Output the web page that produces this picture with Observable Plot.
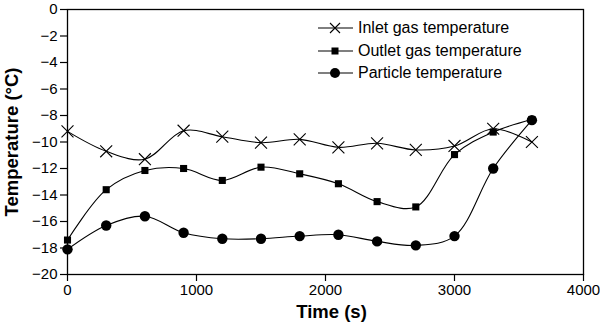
<!DOCTYPE html>
<html>
<head>
<meta charset="utf-8">
<script src="https://cdn.jsdelivr.net/npm/d3@7"></script>
<script src="https://cdn.jsdelivr.net/npm/@observablehq/plot@0.6"></script>
<style>
  html, body { margin: 0; padding: 0; background: #fff; }
  #wrap { position: relative; width: 600px; height: 324px; font-family: "Liberation Sans", Arial, sans-serif; }
  .legend { position: absolute; left: 318px; top: 17px; font-size: 16px; color: #000; }
  .legend .row { display: flex; align-items: center; height: 22.5px; }
  .legend svg { margin-right: 5px; }
</style>
</head>
<body>
<div id="wrap"></div>
<script>
const times = [0, 300, 600, 900, 1200, 1500, 1800, 2100, 2400, 2700, 3000, 3300, 3600];
const inletGas = [-9.2, -10.7, -11.3, -9.15, -9.6, -10.05, -9.8, -10.4, -10.1, -10.6, -10.3, -9.0, -10.0];
const outletGas = [-17.4, -13.6, -12.15, -12.0, -12.9, -11.9, -12.4, -13.15, -14.5, -14.9, -10.95, -9.25, -8.3];
const particle = [-18.1, -16.3, -15.6, -16.85, -17.3, -17.3, -17.1, -17.0, -17.5, -17.8, -17.1, -12.0, -8.35];
const seriesNames = ["Inlet gas temperature", "Outlet gas temperature", "Particle temperature"];
const xTicks = [0, 1000, 2000, 3000, 4000];
const yTicks = [0, -2, -4, -6, -8, -10, -12, -14, -16, -18, -20];

const rows = (vals) => times.map((t, i) => ({t, v: vals[i]}));
const inlet = rows(inletGas), outlet = rows(outletGas), part = rows(particle);

const fmt = d3.format("d");

const chart = Plot.plot({
  width: 600,
  height: 324,
  marginLeft: 67,
  marginRight: 17,
  marginTop: 9,
  marginBottom: 50,
  style: {fontFamily: "Liberation Sans, Arial, sans-serif", fontSize: "15px", color: "#000", background: "#fff"},
  x: {domain: [0, 4000]},
  y: {domain: [-20, 0]},
  marks: [
    Plot.frame({stroke: "#000", strokeWidth: 1.3}),
    Plot.axisY(yTicks, {tickSize: 7, tickPadding: 3, tickFormat: fmt, label: null, fontSize: 15, strokeWidth: 1.2}),
    Plot.axisX(xTicks, {tickSize: 7, tickPadding: 3, tickFormat: fmt, label: null, fontSize: 15, strokeWidth: 1.2}),
    Plot.text(["Temperature (°C)"], {frameAnchor: "left", textAnchor: "middle", lineAnchor: "middle", rotate: -90, dx: -55, fontWeight: "bold", fontSize: 18.5}),
    Plot.text(["Time (s)"], {frameAnchor: "bottom", textAnchor: "middle", lineAnchor: "middle", dy: 38, dx: 6, fontWeight: "bold", fontSize: 18.5}),
    Plot.line(inlet, {x: "t", y: "v", curve: "catmull-rom", stroke: "#000", strokeWidth: 1.1}),
    Plot.line(outlet, {x: "t", y: "v", curve: "catmull-rom", stroke: "#000", strokeWidth: 1.1}),
    Plot.line(part, {x: "t", y: "v", curve: "catmull-rom", stroke: "#000", strokeWidth: 1.1}),
    Plot.dot(inlet, {x: "t", y: "v", symbol: "times", r: 5.5, stroke: "#000", strokeWidth: 1.1}),
    Plot.dot(outlet, {x: "t", y: "v", symbol: "square", r: 4, fill: "#000", stroke: "none"}),
    Plot.dot(part, {x: "t", y: "v", symbol: "circle", r: 5.2, fill: "#000", stroke: "none"})
  ]
});

const wrap = document.getElementById("wrap");
wrap.appendChild(chart);

const legend = document.createElement("div");
legend.className = "legend";
const markers = [
  '<path d="M12,-5L22,5M12,5L22,-5" stroke="#000" stroke-width="1.1" fill="none"/>',
  '<rect x="13.5" y="-3.5" width="7" height="7" fill="#000"/>',
  '<circle cx="17" cy="0" r="5" fill="#000"/>'
];
seriesNames.forEach((name, i) => {
  const row = document.createElement("div");
  row.className = "row";
  row.innerHTML = `<svg width="35" height="14" viewBox="0 -7 35 14"><line x1="0" x2="35" y1="0" y2="0" stroke="#000" stroke-width="1.1"/>${markers[i]}</svg><span>${name}</span>`;
  legend.appendChild(row);
});
wrap.appendChild(legend);
</script>
</body>
</html>
